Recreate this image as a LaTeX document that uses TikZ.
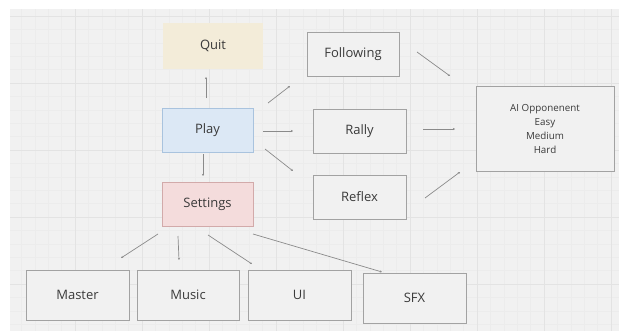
\documentclass[tikz,border=0pt]{standalone}
\usepackage{fontspec}
\setmainfont{Open Sans}
\usetikzlibrary{arrows.meta}

\definecolor{paper}{HTML}{F1F1F1}
\definecolor{gridminor}{HTML}{ECECEC}
\definecolor{gridmajor}{HTML}{E3E3E3}
\definecolor{edge}{HTML}{A2A2A2}
\definecolor{ink}{HTML}{3A3A3A}
\definecolor{wire}{HTML}{8A8A8A}
\definecolor{quitfill}{HTML}{F3ECD9}
\definecolor{playfill}{HTML}{DCE8F5}
\definecolor{playedge}{HTML}{A9C3DE}
\definecolor{setfill}{HTML}{F4DCDC}
\definecolor{setedge}{HTML}{D2AAAA}

\tikzset{
  card/.style={rectangle, draw=edge, line width=0.8pt, fill=paper,
    text=ink, font=\fontsize{13}{15}\selectfont, inner sep=0pt,
    minimum width=#1},
  card/.default=93pt,
  conn/.style={draw=wire, line width=0.7pt,
    -{Stealth[length=2.2pt,width=2.2pt]}},
}

\begin{document}
\begin{tikzpicture}[x=1pt,y=-1pt]
  % page and board
  \fill[white] (0,0) rectangle (619,332);
  \useasboundingbox (0,0) rectangle (619,332);
  \fill[paper] (10,9) rectangle (619,331);
  \begin{scope}
    \clip (10,9) rectangle (619,331);
    \foreach \i in {0,...,46} {
      \draw[gridminor, line width=0.4pt] (8+13.4*\i,9) -- (8+13.4*\i,331);
    }
    \foreach \i in {0,...,25} {
      \draw[gridminor, line width=0.4pt] (10,16+13.4*\i) -- (619,16+13.4*\i);
    }
    \foreach \i in {0,...,9} {
      \draw[gridmajor, line width=0.7pt] (8+67*\i,9) -- (8+67*\i,331);
    }
    \foreach \i in {0,...,5} {
      \draw[gridmajor, line width=0.7pt] (10,16+67*\i) -- (619,16+67*\i);
    }
  \end{scope}

  % menu column
  \node[card=100pt, minimum height=46pt, draw=none, fill=quitfill] (quit) at (213,46) {Quit};
  \node[card=91pt, minimum height=44pt, draw=playedge, fill=playfill] (play) at (207.5,130) {Play};
  \node[card=91pt, minimum height=44pt, draw=setedge, fill=setfill] (settings) at (207.5,204) {Settings};

  % game modes
  \node[card=92pt, minimum height=44pt] (following) at (353,54) {Following};
  \node[card=93pt, minimum height=44pt] (rally) at (359.5,131) {Rally};
  \node[card=93pt, minimum height=44pt] (reflex) at (359.5,197) {Reflex};

  % opponent difficulty
  \node[card=138pt, minimum height=85pt, align=center,
        font=\fontsize{9.8}{14}\selectfont] (ai) at (545,128.5)
        {AI Opponenent\\Easy\\Medium\\Hard};

  % audio settings
  \node[card=103pt, minimum height=50pt] (master) at (77.5,295) {Master};
  \node[card=102pt, minimum height=50pt] (music) at (188,295) {Music};
  \node[card=103pt, minimum height=50pt] (ui) at (299.5,295) {UI};
  \node[card=103pt, minimum height=50pt] (sfx) at (414.5,298) {SFX};

  % connector end points
  \coordinate (pq1) at (206,98);   \coordinate (pq2) at (206,77);
  \coordinate (pf1) at (268,103);  \coordinate (pf2) at (290,86);
  \coordinate (pr1) at (263,131);  \coordinate (pr2) at (293,131);
  \coordinate (px1) at (265,149);  \coordinate (px2) at (293,171);
  \coordinate (ps1) at (203,154);  \coordinate (ps2) at (203,176);
  \coordinate (fa1) at (417,52);   \coordinate (fa2) at (450,76);
  \coordinate (ra1) at (423,129);  \coordinate (ra2) at (455,129);
  \coordinate (xa1) at (425,198);  \coordinate (xa2) at (460,172);
  \coordinate (sm1) at (158,234);  \coordinate (sm2) at (121,258);
  \coordinate (su1) at (178,236);  \coordinate (su2) at (179,260);
  \coordinate (si1) at (208,235);  \coordinate (si2) at (252,264);
  \coordinate (sx1) at (253,234);  \coordinate (sx2) at (382,272);

  \draw[conn] (pq1) -- (pq2);
  \draw[conn] (pf1) -- (pf2);
  \draw[conn] (pr1) -- (pr2);
  \draw[conn] (px1) -- (px2);
  \draw[conn] (ps1) -- (ps2);
  \draw[conn] (fa1) -- (fa2);
  \draw[conn] (ra1) -- (ra2);
  \draw[conn] (xa1) -- (xa2);
  \draw[conn] (sm1) -- (sm2);
  \draw[conn] (su1) -- (su2);
  \draw[conn] (si1) -- (si2);
  \draw[conn] (sx1) -- (sx2);
\end{tikzpicture}
\end{document}
